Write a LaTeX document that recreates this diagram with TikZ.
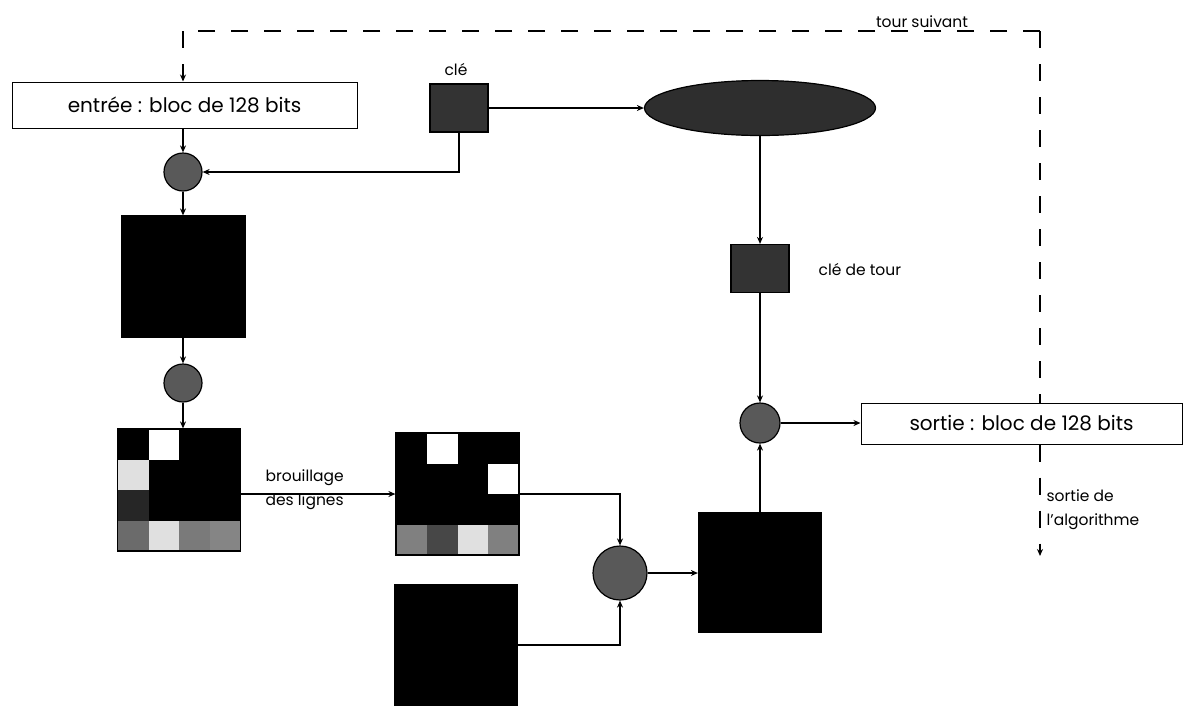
\documentclass[tikz,border=0pt]{standalone}
\usepackage{fontspec}
\setmainfont{Poppins}
\usetikzlibrary{shapes.geometric,arrows.meta}
\begin{document}
\begin{tikzpicture}[x=1pt,y=-1pt,
  line width=1.2pt,
  arr/.style={-{Stealth[length=7pt,width=6pt]}},
  dline/.style={line width=1.6pt,dash pattern=on 17pt off 16pt},
  darr/.style={dline,-{Stealth[length=7pt,width=6pt]}},
  iobox/.style={draw,line width=1pt,fill=white,inner sep=0pt,font=\fontsize{20}{24}\selectfont},
  keysq/.style={draw,fill=black!80,inner sep=0pt,minimum width=58pt,minimum height=48pt},
  blk/.style={draw,fill=black,inner sep=0pt,minimum width=123pt,minimum height=121pt},
  xorc/.style={circle,draw,fill=black!65,inner sep=0pt},
  gridn/.style={draw,inner sep=0pt,minimum width=123pt,minimum height=122pt},
  small/.style={font=\fontsize{15.5}{24}\selectfont,inner sep=0pt}]
\useasboundingbox (0,0) rectangle (1194,705);
\fill[white] (0,0) rectangle (1194,705);

% boxes
\node[iobox,minimum width=345pt,minimum height=46pt] (in) at (184.5,105) {entrée : bloc de 128 bits};
\node[iobox,minimum width=321pt,minimum height=41pt] (out) at (1021.5,423.5) {sortie : bloc de 128 bits};

% key and key schedule
\node[keysq] (key) at (459,108) {};
\node[small,anchor=south] (keylbl) at (456,76) {clé};
\node[ellipse,draw,fill=black!82,inner sep=0pt,minimum width=231pt,minimum height=55pt] (ell) at (760,108) {};
\node[keysq] (rk) at (760,268.5) {};
\node[small,anchor=west] (rklbl) at (818,270) {clé de tour};

% left column
\node[xorc,minimum size=38pt] (c1) at (183,172) {};
\node[blk] (s1) at (183.5,276.5) {};
\node[xorc,minimum size=38pt] (c2) at (183,383) {};

% grid 1
\foreach \r/\c/\col in {0/0/black,0/1/white,0/2/black,0/3/black,
                        1/0/black!12,1/1/black,1/2/black,1/3/black,
                        2/0/black!85,2/1/black,2/2/black,2/3/black,
                        3/0/black!58,3/1/black!12,3/2/black!52,3/3/black!48}
  \fill[\col] (118+\c*30.5,429+\r*30.5) rectangle ++(30.5,30.5);
\node[gridn] (g1) at (179,490) {};

% grid 2
\foreach \r/\c/\col in {0/0/black,0/1/white,0/2/black,0/3/black,
                        1/0/black,1/1/black,1/2/black,1/3/white,
                        2/0/black,2/1/black,2/2/black,2/3/black,
                        3/0/black!50,3/1/black!72,3/2/black!12,3/3/black!50}
  \fill[\col] (396+\c*30.75,433+\r*30.5) rectangle ++(30.75,30.5);
\node[gridn] (g2) at (457.5,494) {};
\node[small,anchor=west,align=left] (brl) at (265,490) {brouillage\\des lignes};

% bottom part
\node[blk,minimum height=120pt] (s3) at (456,645) {};
\node[xorc,minimum size=54pt] (c3) at (620,573) {};
\node[blk,minimum height=119pt] (s4) at (760,572.5) {};
\node[xorc,minimum size=40pt] (c4) at (760,423) {};

% connectors
\draw[arr] (c1.north |- in.south) -- (c1.north);
\draw[arr] (key.south) |- (c1.east);
\draw[arr] (key.east) -- (ell.west);
\draw[arr] (c1.south) -- (s1.north -| c1.south);
\draw[arr] (s1.south -| c2.north) -- (c2.north);
\draw[arr] (c2.south) -- (g1.north -| c2.south);
\draw[arr] (g1.east |- g2.west) -- (g2.west);
\draw[arr] (g2.east) -| (c3.north);
\draw[arr] (s3.east) -| (c3.south);
\draw[arr] (c3.east) -- (c3.east -| s4.west);
\draw[arr] (c4.south |- s4.north) -- (c4.south);
\draw[arr] (ell.south) -- (rk.north);
\draw[arr] (rk.south) -- (c4.north);
\draw[arr] (c4.east) -- (c4.east -| out.west);

% dashed loop
\coordinate (tl) at (183,31);
\coordinate (tr) at (1040,31);
\coordinate (fin) at (1040,556);
\draw[dline] (tr) -- (tl);
\draw[darr] (tl) -- (in.north -| tl);
\draw[dline] (tr) -- (tr |- out.north);
\draw[darr] (tr |- out.south) -- (fin);
\node[small,anchor=south] (ts) at (922,28) {tour suivant};
\node[small,anchor=west,align=left] (sa) at (1046,510) {sortie de\\l'algorithme};
\end{tikzpicture}
\end{document}
